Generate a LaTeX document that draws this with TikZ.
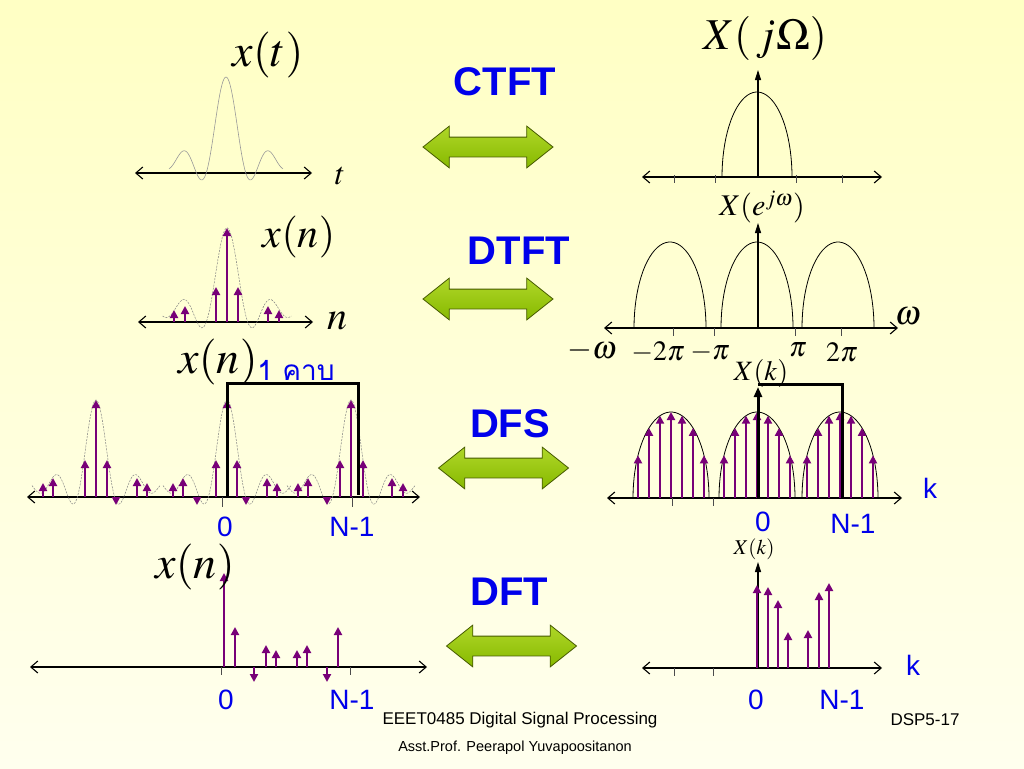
\documentclass[tikz,border=0pt]{standalone}
\usepackage{amsmath}
\usepackage{amssymb}
\usepackage{mathptmx}
\usepackage[no-math]{fontspec}
\setmainfont{Liberation Serif}
\setsansfont{Liberation Sans}
\newfontfamily\thaifont[Script=Thai]{Loma}
\usetikzlibrary{positioning,shapes.arrows,arrows.meta}

\definecolor{bgtop}{RGB}{255,255,196}
\definecolor{bgbot}{RGB}{255,255,238}
\definecolor{slideblue}{RGB}{0,0,235}
\definecolor{stempurple}{RGB}{120,0,120}
\definecolor{arrowtop}{RGB}{175,215,40}
\definecolor{arrowbot}{RGB}{135,185,0}
\definecolor{arrowedge}{RGB}{70,90,0}

\tikzset{
  haxis/.style={line width=1.1pt, {Straight Barb[length=7pt,width=12pt]}-{Straight Barb[length=7pt,width=12pt]}},
  yaxis/.style={line width=1.1pt, -{Triangle[length=10pt,width=6pt]}},
  tickmark/.style={line width=0.8pt, black!70},
  stem/.style={line width=2.2pt, draw=stempurple, -{Triangle[length=8pt,width=8pt]}},
  hull/.style={line width=0.8pt},
  guide/.style={gray, line width=0.5pt, dash pattern=on 2pt off 1.2pt},
  period/.style={line width=3pt},
  tname/.style={font=\sffamily\bfseries\fontsize{40}{44}\selectfont, text=slideblue},
  idx/.style={font=\sffamily\fontsize{28}{32}\selectfont, text=slideblue},
  biglbl/.style={font=\fontsize{46}{50}\selectfont},
  pair/.style={double arrow, draw=arrowedge, line width=0.8pt,
    top color=arrowtop, bottom color=arrowbot,
    minimum height=130pt, minimum width=41pt, inner xsep=0pt, inner ysep=9.5pt,
    double arrow head extend=11pt, double arrow tip angle=77},
  foot/.style={font=\sffamily\fontsize{17}{20}\selectfont}
}

\begin{document}
\begin{tikzpicture}[x=1pt, y=-1pt,
    declare function={snc(\u)=sin(180*\u)/(pi*\u);}]
  \shade[top color=bgtop, bottom color=bgbot] (0,0) rectangle (1024,768);
  \useasboundingbox (0,0) rectangle (1024,768);

  % CTFT
  \draw[haxis] (135,173) -- (312,173);
  \draw[gray!80, line width=0.6pt] plot[domain=-3.35:3.35, samples=100] ({226+17*\x},{161.6-84.6*snc(\x)});
  \node[biglbl] (xt) at (268,55) {$x(t)$};
  \node[font=\fontsize{32}{36}\selectfont] (tlbl) at (340,176) {$t$};

  \draw[haxis] (642,177) -- (882,177);
  \foreach \t in {674,715,796,842}
    \draw[tickmark] (\t,175) -- (\t,183);
  \draw[yaxis] (758,177) -- (758,70);
  \draw[hull] plot[domain=0:180, samples=40] ({757+35*cos(\x)},{177-85*sin(\x)});
  \node[biglbl, font=\fontsize{44}{48}\selectfont] (Xjw) at (765,38) {$X(\,j\Omega)$};

  \node[tname] (ctft) at (505,82) {CTFT};
  \node[pair] (ctftarr) at (488,147) {};

  % DTFT
  \draw[haxis] (138,322) -- (313,322);
  \draw[guide] plot[domain=-3.68:3.68, samples=100] ({227+17.5*\x},{310-82.2*snc(\x)});
  \foreach \n/\h in {174/310,185/306,216/287,227/228,238/287,268/306,279/310}
    \draw[stem] (\n,322) -- (\n,\h);
  \node[font=\fontsize{42}{46}\selectfont] (xn2) at (299,237) {$x(n)$};
  \node[font=\fontsize{40}{44}\selectfont] (nlbl) at (337,321) {$n$};

  \draw[haxis] (604,328) -- (898,328);
  \foreach \t in {673,714,795,841}
    \draw[tickmark] (\t,328) -- (\t,336);
  \draw[yaxis] (758,328) -- (758,223);
  \foreach \c in {670,757,838}
    \draw[hull] plot[domain=0:180, samples=40] ({\c+36*cos(\x)},{328-86*sin(\x)});
  \node[font=\fontsize{30}{34}\selectfont] (Xejw) at (762,207) {$X(e^{j\omega})$};
  \node[font=\fontsize{34}{38}\selectfont] (wlbl) at (908,316) {$\omega$};
  \node[font=\fontsize{32}{36}\selectfont] (mw) at (592,350) {$-\omega$};
  \node[font=\fontsize{28}{32}\selectfont] (m2pi) at (658,352) {$-2\pi$};
  \node[font=\fontsize{28}{32}\selectfont] (mpi) at (710,352) {$-\pi$};
  \node[font=\fontsize{28}{32}\selectfont] (ppi) at (798,350) {$\pi$};
  \node[font=\fontsize{28}{32}\selectfont] (p2pi) at (842,352) {$2\pi$};

  \node[tname] (dtft) at (519,251) {DTFT};
  \node[pair] (dtftarr) at (488,299) {};

  % DFS
  \draw[haxis] (27,497) -- (420,497);
  \foreach \t in {222,352}
    \draw[tickmark] (\t,497) -- (\t,507);
  \foreach \c in {96,227,351}
    \draw[guide] plot[domain=-4:4, samples=100] ({\c+16*\x},{485.5-85.5*snc(\x)});
  \foreach \n/\h in {43/483,53/478,85/460,96/400,107/460,137/478,147/483,
                     173/483,183/478,216/460,227/400,237/460,267/478,277/483,
                     298/483,308/478,340/460,351/400,363/460,392/478,403/483}
    \draw[stem] (\n,497) -- (\n,\h);
  \foreach \n in {116,197,246,327}
    \draw[stem] (\n,497) -- (\n,505);
  \draw[period] (227,497) -- (227,383) -- (358,383) -- (358,495);
  \node[biglbl] (xn3) at (218,362) {$x(n)$};
  \node[font=\thaifont\fontsize{28}{32}\selectfont, text=slideblue] (onep) at (296,370) {1 คาบ};
  \node[idx] (z3l) at (225,527) {0};
  \node[idx] (N3l) at (352,527) {N-1};

  \draw[haxis] (607,498) -- (902,498);
  \foreach \t in {672,713}
    \draw[tickmark] (\t,498) -- (\t,506);
  \foreach \c in {671,757,840} {
    \draw[hull] plot[domain=0:180, samples=40] ({\c+38*cos(\x)},{498-86*sin(\x)});
    \foreach \d in {-33,-22,...,33}
      \draw[stem] ({\c+\d},498) -- ({\c+\d},{498-86*sqrt(1-(\d/38)^2)});
  }
  \draw[period] (758,384) -- (842,384) -- (842,498);
  \draw[period, -{Triangle[length=10pt,width=8pt]}] (758,498) -- (758,387);
  \node[font=\fontsize{28}{32}\selectfont] (Xk3) at (761,373) {$X(k)$};
  \node[idx] (k3) at (930,488) {k};
  \node[idx] (z3r) at (763,522) {0};
  \node[idx] (N3r) at (853,524) {N-1};

  \node[tname] (dfs) at (510,424) {DFS};
  \node[pair] (dfsarr) at (503.5,468) {};

  % DFT
  \draw[haxis] (30,667) -- (427,667);
  \foreach \t in {221,350}
    \draw[tickmark] (\t,667) -- (\t,675);
  \foreach \n/\h in {224/573,235/627,266/645,276/650,297/650,307/645,338/627}
    \draw[stem] (\n,667) -- (\n,\h);
  \foreach \n in {254,327}
    \draw[stem] (\n,667) -- (\n,682);
  \node[biglbl] (xn4) at (195,567) {$x(n)$};
  \node[idx] (z4l) at (226,700) {0};
  \node[idx] (N4l) at (352,700) {N-1};

  \draw[haxis] (642,668) -- (882,668);
  \foreach \t in {674,713}
    \draw[tickmark] (\t,668) -- (\t,676);
  \draw[yaxis] (758,668) -- (758,562);
  \foreach \n/\h in {757/585,768/587,778/600,788/632,808/630,819/592,829/583}
    \draw[stem] (\n,668) -- (\n,\h);
  \node[font=\fontsize{21}{25}\selectfont] (Xk4) at (754,549) {$X(k)$};
  \node[idx] (k4) at (913,665) {k};
  \node[idx] (z4r) at (756,700) {0};
  \node[idx] (N4r) at (842,700) {N-1};

  \node[tname] (dft) at (509,592) {DFT};
  \node[pair] (dftarr) at (511.5,646) {};

  % footer
  \node[foot] (course) at (520,720) {EEET0485 Digital Signal Processing};
  \node[foot] (slide) at (925,720) {DSP5-17};
  \node[foot, font=\sffamily\fontsize{14.5}{17}\selectfont] (author) at (515,748) {Asst.Prof. Peerapol Yuvapoositanon};
\end{tikzpicture}
\end{document}
